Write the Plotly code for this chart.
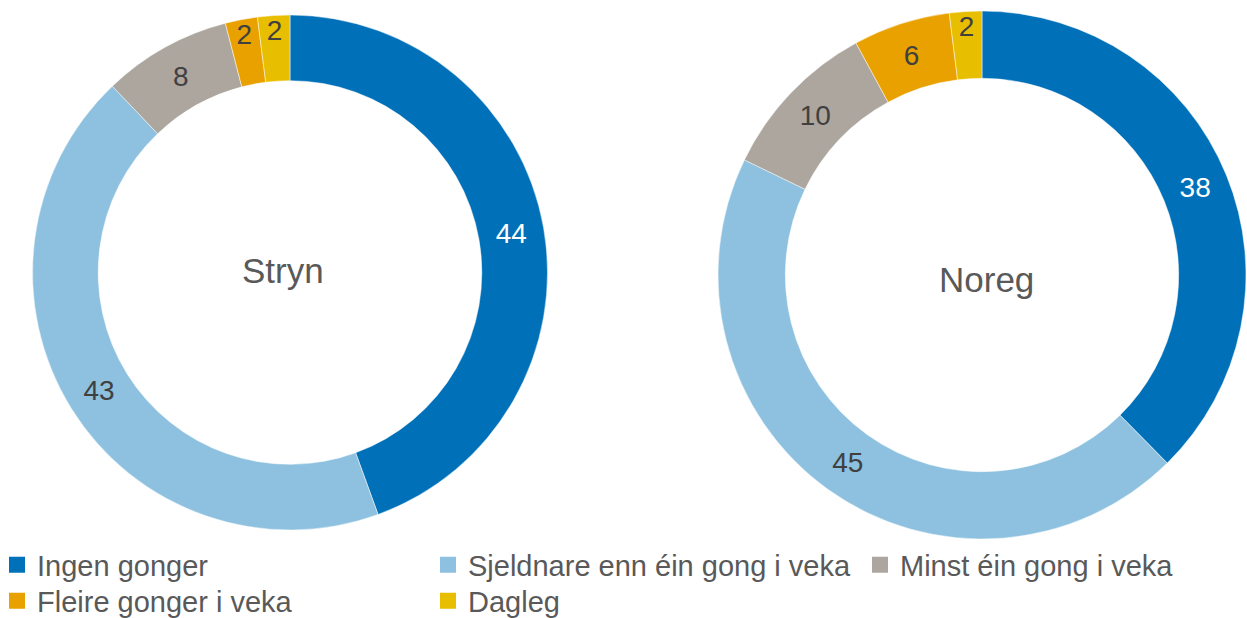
import plotly.graph_objects as go

categories = ["Ingen gonger", "Sjeldnare enn éin gong i veka", "Minst éin gong i veka",
              "Fleire gonger i veka", "Dagleg"]
stryn_values = [44, 43, 8, 2, 2]
noreg_values = [38, 45, 10, 6, 2]
colors = ["#0070B8", "#8DC1DF", "#ADA69F", "#E9A100", "#E8BE00"]
text_colors = ["#FFFFFF", "#404040", "#404040", "#404040", "#404040"]

FONT = "Liberation Sans, Arial, sans-serif"
W, H = 1247, 618

# legend entry placement (px): left edge, vertical centre
legend_pos = [(-3, 565), (428, 565), (860, 565), (-3, 601), (428, 601)]
# centre captions (px): text, x, y
captions = [("Stryn", 283, 270), ("Noreg", 986, 280)]


def dom(x0, x1, top, bottom):
    return dict(x=[x0 / W, x1 / W], y=[(H - bottom) / H, (H - top) / H])


fig = go.Figure()
for vals, d in [
    (stryn_values, dom(32, 548, 15, 530)),
    (noreg_values, dom(718, 1246, 10, 540)),
]:
    fig.add_trace(go.Pie(
        labels=categories,
        values=vals,
        text=[str(v) for v in vals],
        textinfo="text",
        textposition="inside",
        insidetextorientation="horizontal",
        textfont=dict(color=text_colors, size=28, family=FONT),
        marker=dict(colors=colors, line=dict(color="rgba(255,255,255,0.6)", width=0.8)),
        hole=0.745,
        sort=False,
        direction="clockwise",
        rotation=0,
        domain=d,
        hoverinfo="label+value",
        showlegend=False,
    ))

for text, cx, cy in captions:
    fig.add_annotation(
        text=text, x=cx / W, y=(H - cy) / H, xref="paper", yref="paper",
        xanchor="center", yanchor="middle", showarrow=False,
        font=dict(size=35, color="#595959", family=FONT),
    )

# legend entries: one square-marker key per category
legend_layout = {}
for i, (cat, col) in enumerate(zip(categories, colors)):
    key = "legend" if i == 0 else f"legend{i + 1}"
    fig.add_trace(go.Scatter(
        x=[None], y=[None], mode="markers", name=cat,
        marker=dict(symbol="square", size=16, color=col),
        legend=key, showlegend=True, hoverinfo="skip",
    ))
    lx, ly = legend_pos[i]
    legend_layout[key] = dict(
        orientation="v",
        x=lx / W, y=(H - ly) / H, xanchor="left", yanchor="middle",
        bgcolor="rgba(0,0,0,0)",
        font=dict(size=29, color="#595959", family=FONT),
        itemclick=False, itemdoubleclick=False,
    )

fig.update_layout(
    width=W, height=H,
    margin=dict(l=0, r=0, t=0, b=0, autoexpand=False),
    paper_bgcolor="white",
    plot_bgcolor="rgba(0,0,0,0)",
    uniformtext=dict(minsize=28, mode="show"),
    xaxis=dict(visible=False),
    yaxis=dict(visible=False),
    **legend_layout,
)

fig.write_html("out.html")
